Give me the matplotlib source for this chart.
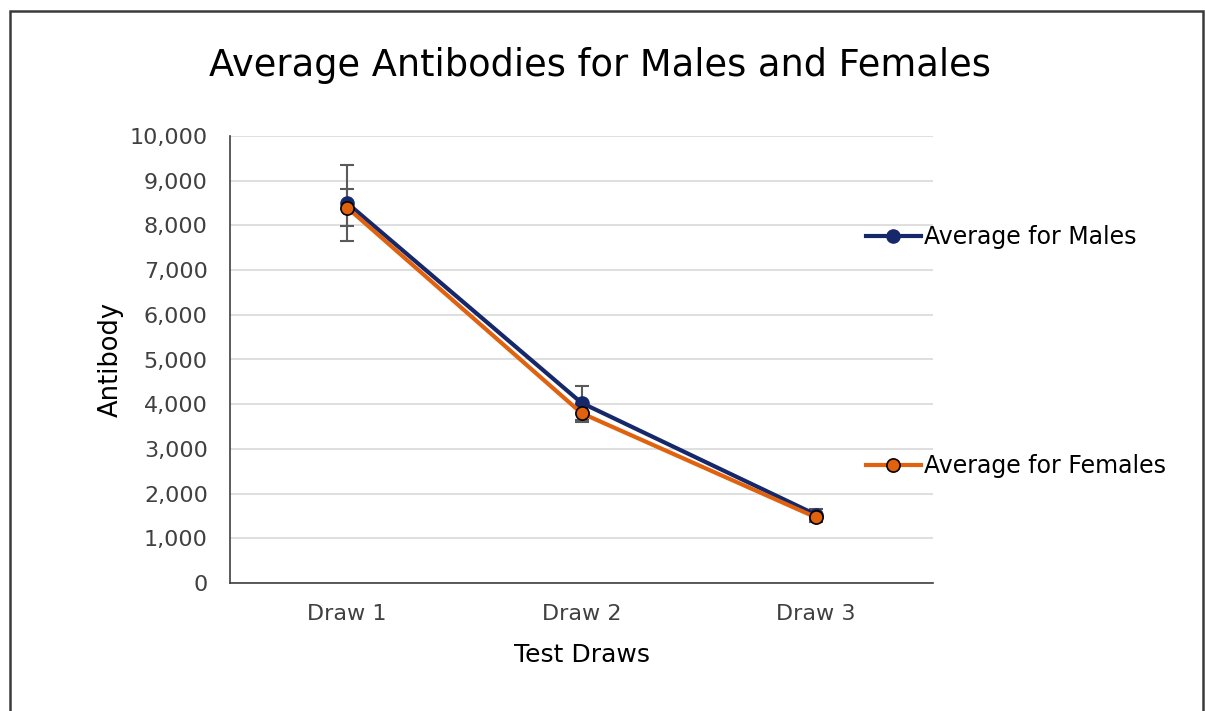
import matplotlib
matplotlib.use("Agg")
import matplotlib.pyplot as plt
from matplotlib.lines import Line2D
from matplotlib.patches import Rectangle

draws = ["Draw 1", "Draw 2", "Draw 3"]
males = [8500, 4030, 1530]
females = [8400, 3800, 1470]
male_err = [850, 380, 120]
female_err = [420, 200, 100]

navy = "#16286a"
orange = "#e0620e"

plt.rcParams['font.family'] = ['DejaVu Sans']

fig = plt.figure(figsize=(12.05, 7.11), dpi=100)
W, H = 1205, 711
ax = fig.add_axes([230 / W, 1 - 583 / H, (933 - 230) / W, (583 - 136) / H])

x = list(range(len(draws)))
ax.errorbar(x, males, yerr=male_err, fmt="none", ecolor="#5a5a5a", elinewidth=1.5, capsize=5, capthick=1.5, zorder=2)
ax.errorbar(x, females, yerr=female_err, fmt="none", ecolor="#5a5a5a", elinewidth=1.5, capsize=5, capthick=1.5, zorder=2)
ax.plot(x, males, color=navy, lw=3, marker="o", ms=9.5, mfc=navy, mec=navy, zorder=3)
ax.plot(x, females, color=orange, lw=3, marker="o", ms=9.5, mfc=orange, mec="black", mew=1.2, zorder=4)

ax.set_xlim(-0.5, 2.5)
ax.set_ylim(0, 10000)
ax.set_yticks(range(0, 10001, 1000))
ax.set_yticklabels([f"{v:,}" for v in range(0, 10001, 1000)])
ax.set_xticks(x)
ax.set_xticklabels(draws)
ax.tick_params(length=0, labelsize=16, colors="#404040")
ax.tick_params(axis="y", pad=16)
ax.tick_params(axis="x", pad=15)
ax.grid(axis="y", color="#d9d9d9", lw=1.2)
ax.set_axisbelow(True)
for s in ["top", "right"]:
    ax.spines[s].set_visible(False)
for s in ["left", "bottom"]:
    ax.spines[s].set_color("#404040")
    ax.spines[s].set_linewidth(1.2)

ax.set_xlabel("Test Draws", fontsize=18, labelpad=14)
ax.set_ylabel("Antibody", fontsize=18.5, labelpad=4)
fig.text(600 / W, 1 - 66 / H, "Average Antibodies for Males and Females", fontsize=26.5, ha="center", va="center")

h_m = Line2D([], [], color=navy, lw=3, marker="o", ms=9.5, mfc=navy, mec=navy)
h_f = Line2D([], [], color=orange, lw=3, marker="o", ms=9.5, mfc=orange, mec="black", mew=1.2)
leg1 = fig.legend([h_m], ["Average for Males"], loc="center left", bbox_to_anchor=(845 / W, 1 - 237 / H),
                  frameon=False, fontsize=17, handlelength=2.3, handletextpad=0.15)
leg2 = fig.legend([h_f], ["Average for Females"], loc="center left", bbox_to_anchor=(845 / W, 1 - 466 / H),
                  frameon=False, fontsize=17, handlelength=2.3, handletextpad=0.15)

fig.patches.append(Rectangle((10 / W, -0.05), (1203 - 10) / W, 1.05 - 11 / H, transform=fig.transFigure,
                             fill=False, ec="#3a3a3a", lw=1.8))

fig.savefig("out.png", dpi=100, facecolor="white")
